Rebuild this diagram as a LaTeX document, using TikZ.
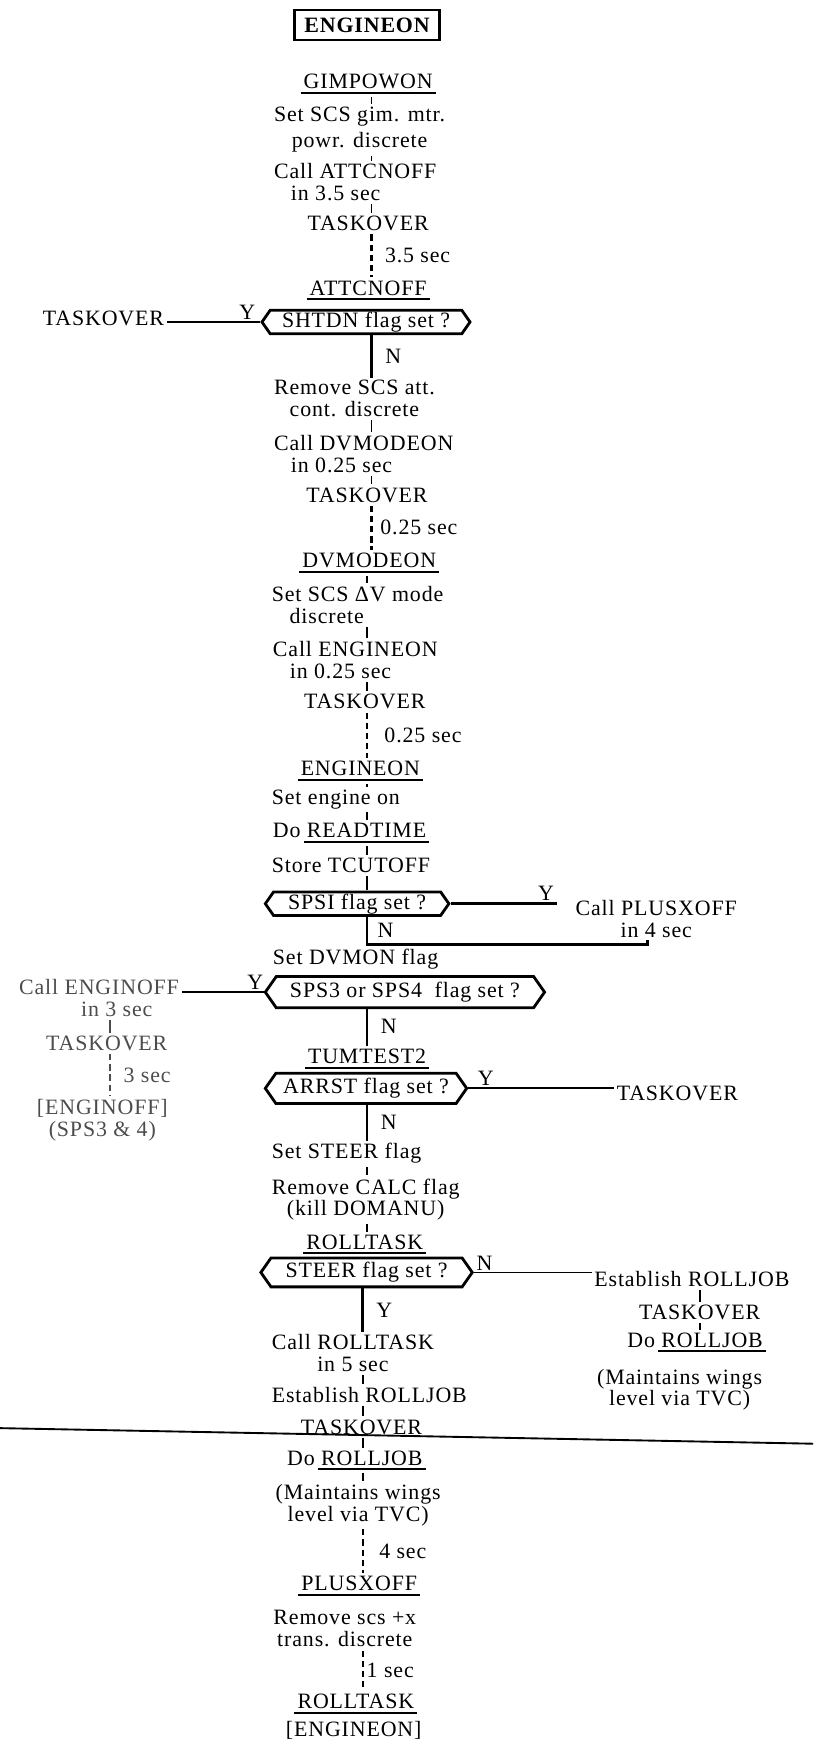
\documentclass[tikz,border=0pt]{standalone}
\usepackage{fontspec}
\setmainfont{Liberation Serif}[LetterSpace=4]
\usetikzlibrary{shapes.symbols}
\newcommand{\diagfont}{\fontsize{14}{14}\selectfont}
\newsavebox{\ulbox}
\newcommand{\undl}[1]{\sbox\ulbox{#1}\rlap{\hspace{-2pt}\rule[-3.2pt]{\dimexpr\wd\ulbox+4pt\relax}{1.3pt}}\usebox\ulbox}
\tikzset{
  txt/.style={inner sep=1.5pt, align=center, font=\diagfont},
  faded/.style={txt, text=black!70},
  startbox/.style={draw, line width=1.6pt, minimum width=3.25cm, minimum height=0.675cm,
    inner sep=2pt, font=\diagfont\bfseries},
  hexbox/.style={draw, line width=1.8pt, signal, signal to=west and east,
    signal pointer angle=110, minimum height=0.64cm, inner xsep=2pt, inner ysep=1pt,
    font=\diagfont, anchor=west},
  flowline/.style={line width=1.6pt},
  sideline/.style={line width=1.1pt},
  tickline/.style={line width=1.2pt, shorten <=0.3pt, shorten >=0.3pt},
  delayline/.style={line width=1.3pt, dash pattern=on 4pt off 2.5pt, shorten <=0.5pt, shorten >=0.5pt},
  brlabel/.style={inner sep=1pt, font=\diagfont},
  ruleline/.style={line width=1.2pt}
}
\begin{document}
\begin{tikzpicture}[x=0.025cm, y=-0.025cm]
    \useasboundingbox (0,0) rectangle (731,1568);
    \coordinate (spA) at (334,0);
    \coordinate (spB) at (330,0);
    \coordinate (spC) at (326,0);
    \coordinate (spL) at (99,0);
    \coordinate (spR) at (629,0);

    \node[startbox] (eon) at (330,22.5) {ENGINEON};
    \node[txt] (gim) at (331,75.5) {\undl{GIMPOWON}};
    \node[txt, anchor=west] (setgim) at (244,116.5) {Set SCS gim. mtr.\\[3pt]powr. discrete};
    \node[txt, anchor=west, align=left] (callatt) at (244,164) {Call ATTCNOFF\\\hspace*{0.38cm}in 3.5 sec};
    \node[txt] (tk1) at (331,201) {TASKOVER};
    \node[txt] (att) at (331,261) {\undl{ATTCNOFF}};
    \node[hexbox, minimum width=4.675cm, minimum height=0.53cm] (shtdn) at (234,289.5) {SHTDN flag set ?};
    \node[txt] (tkl1) at (93,286) {TASKOVER};
    \node[txt, anchor=west] (remscs) at (244,358.5) {Remove SCS att.\\cont. discrete};
    \node[txt, anchor=west, align=left] (calldv) at (244,408) {Call DVMODEON\\\hspace*{0.38cm}in 0.25 sec};
    \node[txt] (tk2) at (330,445) {TASKOVER};
    \node[txt] (dvm) at (332,506) {\undl{DVMODEON}};
    \node[txt, anchor=west, align=left] (setdv) at (242,544) {Set SCS ΔV mode\\\hspace*{0.4cm}discrete};
    \node[txt, anchor=west, align=left] (calleon) at (243,593.5) {Call ENGINEON\\\hspace*{0.38cm}in 0.25 sec};
    \node[txt] (tk3) at (328,631) {TASKOVER};
    \node[txt] (eon2) at (324,693) {\undl{ENGINEON}};
    \node[txt, anchor=west] (engon) at (242,719) {Set engine on};
    \node[txt, anchor=west] (readt) at (243,749) {Do \undl{READTIME}};
    \node[txt, anchor=west] (store) at (242,778) {Store TCUTOFF};
    \node[hexbox, minimum width=4.125cm, minimum height=0.53cm] (spsi) at (237,812.5) {SPSI flag set ?};
    \node[txt] (plusx) at (590,826) {Call PLUSXOFF\\in 4 sec};
    \coordinate (mergeR) at (582,849);
    \node[txt, anchor=west] (dvmon) at (243,862) {Set DVMON flag};
    \node[hexbox, minimum width=6.275cm, minimum height=0.7cm] (sps34) at (237,892) {SPS3 or SPS4\ \ flag set ?};
    \node[faded] (enof) at (89,897.5) {Call ENGINOFF\\\hspace*{0.8cm}in 3 sec};
    \node[faded] (tkl2) at (96,938) {TASKOVER};
    \node[faded] (enofB) at (92,1007.5) {[ENGINOFF]\\(SPS3 \& 4)};
    \node[txt] (tum) at (330,952) {\undl{TUMTEST2}};
    \node[hexbox, minimum width=4.525cm, minimum height=0.68cm] (arrst) at (237,978.5) {ARRST flag set ?};
    \node[txt] (tkr1) at (609,983) {TASKOVER};
    \node[txt, anchor=west] (setst) at (242,1037) {Set STEER flag};
    \node[txt, anchor=west] (remcalc) at (242,1078.5) {Remove CALC flag\\(kill DOMANU)};
    \node[txt] (roll) at (328,1119) {\undl{ROLLTASK}};
    \node[hexbox, minimum width=4.75cm, minimum height=0.65cm] (steer) at (233,1144) {STEER flag set ?};
    \node[txt, anchor=west] (estR) at (532,1150) {Establish ROLLJOB};
    \node[txt] (tkr2) at (629,1180) {TASKOVER};
    \node[txt] (doR) at (625,1207) {Do \undl{ROLLJOB}};
    \node[txt] (mwR) at (611,1249.5) {(Maintains wings\\level via TVC)};
    \node[txt, anchor=west] (callroll) at (242,1216.5) {Call ROLLTASK\\in 5 sec};
    \node[txt, anchor=west] (estB) at (242,1254) {Establish ROLLJOB};
    \node[txt] (tk4) at (325,1283) {TASKOVER};
    \node[txt] (doB) at (319,1313) {Do \undl{ROLLJOB}};
    \node[txt] (mwB) at (322,1353) {(Maintains wings\\level via TVC)};
    \node[txt] (plx) at (323,1426) {\undl{PLUSXOFF}};
    \node[txt] (remx) at (310,1464.5) {Remove scs +x\\trans. discrete};
    \node[txt] (roll2) at (320,1532) {\undl{ROLLTASK}};
    \node[txt] (eonEnd) at (318,1556) {[ENGINEON]};

    \draw[tickline] (gim.south -| spA) -- (setgim.north -| spA);
    \draw[tickline] (setgim.south -| spA) -- (callatt.north -| spA);
    \draw[tickline] (callatt.south -| spA) -- (tk1.north -| spA);
    \draw[delayline] (tk1.south -| spA) -- node[brlabel, right=7pt] {3.5 sec} (att.north -| spA);
    \draw[flowline] (shtdn.west) -- node[brlabel, above, pos=0.14] {Y} (shtdn.west -| tkl1.east);
    \draw[flowline] (shtdn.south -| spA) -- node[brlabel, right=7pt] {N} (remscs.north -| spA);
    \draw[tickline] (remscs.south -| spA) -- (calldv.north -| spA);
    \draw[tickline] (calldv.south -| spA) -- (tk2.north -| spA);
    \draw[delayline] (tk2.south -| spA) -- node[brlabel, right=4pt] {0.25 sec} (dvm.north -| spA);
    \draw[tickline] (dvm.south -| spB) -- (setdv.north -| spB);
    \draw[tickline] (setdv.south -| spB) -- (calleon.north -| spB);
    \draw[tickline] (calleon.south -| spB) -- (tk3.north -| spB);
    \draw[delayline] (tk3.south -| spB) -- node[brlabel, right=9.5pt] {0.25 sec} (eon2.north -| spB);
    \draw[tickline] (eon2.south -| spB) -- (engon.north -| spB);
    \draw[tickline] (engon.south -| spB) -- (readt.north -| spB);
    \draw[tickline] (readt.south -| spB) -- (store.north -| spB);
    \draw[tickline] (store.south -| spB) -- (spsi.north -| spB);
    \draw[flowline, shorten >=10pt] (spsi.east) -- node[brlabel, above, pos=0.78] {Y} (spsi.east -| plusx.west);
    \draw[flowline] (spsi.south -| spB) -- node[brlabel, right=5pt] {N} (mergeR -| spB) -- (mergeR) -- (mergeR |- plusx.south);
    \draw[sideline] (sps34.west) -- node[brlabel, above, pos=0.1] {Y} (sps34.west -| enof.east);
    \draw[tickline, black!70] (enof.south -| spL) -- (tkl2.north -| spL);
    \draw[delayline, black!70] (tkl2.south -| spL) -- node[brlabel, right=7pt] {3 sec} (enofB.north -| spL);
    \draw[flowline] (sps34.south -| spB) -- node[brlabel, right=7pt, pos=0.45] {N} (tum.north -| spB);
    \draw[sideline] (arrst.east) -- node[brlabel, above, pos=0.12] {Y} (arrst.east -| tkr1.west);
    \draw[flowline] (arrst.south -| spB) -- node[brlabel, right=7pt] {N} (setst.north -| spB);
    \draw[tickline] (setst.south -| spB) -- (remcalc.north -| spB);
    \draw[tickline] (remcalc.south -| spB) -- (roll.north -| spB);
    \draw[sideline] (steer.east) -- node[brlabel, above, pos=0.09] {N} (steer.east -| estR.west);
    \draw[tickline] (estR.south -| spR) -- (tkr2.north -| spR);
    \draw[tickline] (tkr2.south -| spR) -- (doR.north -| spR);
    \draw[flowline] (steer.south -| spC) -- node[brlabel, right=7pt] {Y} (callroll.north -| spC);
    \draw[tickline] (callroll.south -| spC) -- (estB.north -| spC);
    \draw[tickline] (estB.south -| spC) -- (tk4.north -| spC);
    \draw[tickline] (tk4.south -| spC) -- (doB.north -| spC);
    \draw[tickline] (doB.south -| spC) -- (mwB.north -| spC);
    \draw[delayline] (mwB.south -| spC) -- node[brlabel, right=9pt] {4 sec} (plx.north -| spC);
    \draw[delayline] (remx.south -| spC) -- node[brlabel, right=1pt] {1 sec} (roll2.north -| spC);

    \draw[ruleline] (0,1284) -- (731,1298);
\end{tikzpicture}
\end{document}
